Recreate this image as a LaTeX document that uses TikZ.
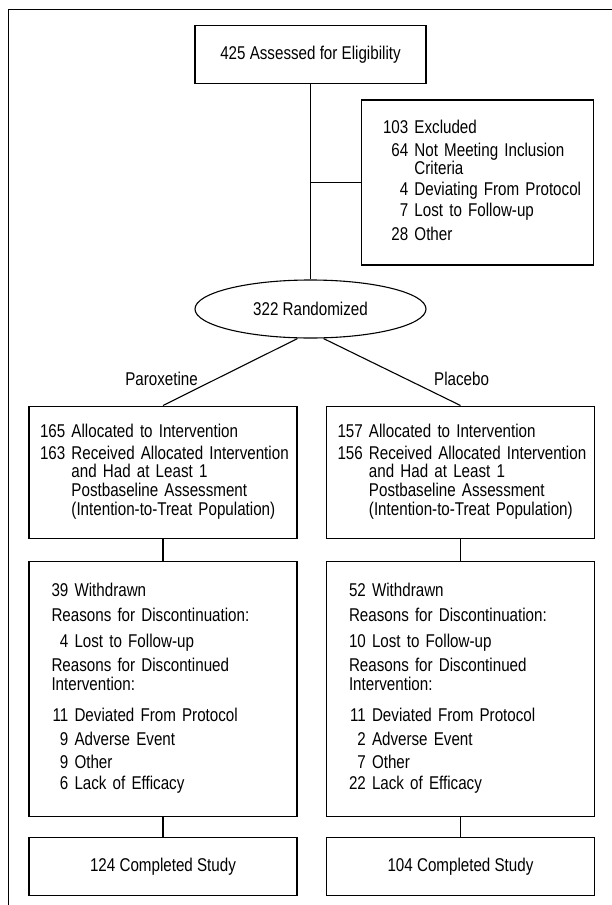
\documentclass[tikz,border=0pt]{standalone}
\usepackage{fontspec}
\setmainfont{Liberation Sans}[FakeStretch=0.82]
\usetikzlibrary{shapes.geometric,positioning}

\newcommand{\rowhead}[1]{\multicolumn{2}{@{}l@{}}{#1}}

\tikzset{
  box/.style={draw, line width=1.1pt, inner sep=0pt},
  listbox/.style={box, align=left, inner ysep=0pt},
  oval/.style={draw, ellipse, line width=1.1pt, inner sep=0pt},
  link/.style={line width=1.1pt},
  frame/.style={line width=1.4pt, line cap=rect}
}

\begin{document}
\begin{tikzpicture}[x=1pt, y=-1pt, font=\fontsize{18.5}{17.5}\selectfont]

  \useasboundingbox (0,0) rectangle (611,905);
  \draw[frame] (611,9.3) -- (8.6,9.3) -- (8.6,905);

  \node[box, minimum width=231pt, minimum height=58.5pt] (assess) at (310.5,54.3) {425 Assessed for Eligibility};

  \node[listbox, minimum width=232pt, minimum height=165pt, text width=189pt, inner xsep=21.5pt] (excl) at (477.5,182.5) {%
    \begin{tabular}{@{}r@{\ }l@{}}
      103 & Excluded\\[5.25pt]
      64 & Not Meeting Inclusion\\[-1pt]
         & Criteria\\[2pt]
      4 & Deviating From Protocol\\[3pt]
      7 & Lost to Follow-up\\[4.5pt]
      28 & Other
    \end{tabular}};

  \node[oval, minimum width=231pt, minimum height=58pt] (rand) at (310.5,309) {322 Randomized};

  % allocation
  \node[listbox, minimum width=268pt, minimum height=132.5pt, text width=246pt, inner xsep=11pt] (alloc1) at (163,472.3) {%
    \begin{tabular}{@{}r@{\ }l@{}}
      165 & Allocated to Intervention\\[2.85pt]
      163 & Received Allocated Intervention\\
          & and Had at Least 1\\
          & Postbaseline Assessment\\
          & (Intention-to-Treat Population)
    \end{tabular}};
  \node[listbox, minimum width=268pt, minimum height=132.5pt, text width=246pt, inner xsep=11pt] (alloc2) at (460.5,472.3) {%
    \begin{tabular}{@{}r@{\ }l@{}}
      157 & Allocated to Intervention\\[2.85pt]
      156 & Received Allocated Intervention\\
          & and Had at Least 1\\
          & Postbaseline Assessment\\
          & (Intention-to-Treat Population)
    \end{tabular}};

  % withdrawals
  \node[listbox, minimum width=268pt, minimum height=255pt, text width=223pt, inner xsep=22.5pt, below=21.5pt of alloc1] (wd1) {%
    \begin{tabular}{@{}r@{\ }l@{}}
      39 & Withdrawn\\[7pt]
      \rowhead{Reasons for Discontinuation:}\\[7pt]
      4 & Lost to Follow-up\\[5.5pt]
      \rowhead{Reasons for Discontinued}\\[0.5pt]
      \rowhead{Intervention:}\\[12pt]
      11 & Deviated From Protocol\\[5.5pt]
      9 & Adverse Event\\[4.5pt]
      9 & Other\\[2pt]
      6 & Lack of Efficacy
    \end{tabular}};
  \node[listbox, minimum width=268pt, minimum height=255pt, text width=223pt, inner xsep=22.5pt, below=21.5pt of alloc2] (wd2) {%
    \begin{tabular}{@{}r@{\ }l@{}}
      52 & Withdrawn\\[7pt]
      \rowhead{Reasons for Discontinuation:}\\[7pt]
      10 & Lost to Follow-up\\[5.5pt]
      \rowhead{Reasons for Discontinued}\\[0.5pt]
      \rowhead{Intervention:}\\[12pt]
      11 & Deviated From Protocol\\[5.5pt]
      2 & Adverse Event\\[4.5pt]
      7 & Other\\[2pt]
      22 & Lack of Efficacy
    \end{tabular}};

  \node[box, minimum width=268pt, minimum height=58pt, below=20pt of wd1] (done1) {124 Completed Study};
  \node[box, minimum width=268pt, minimum height=58pt, below=20pt of wd2] (done2) {104 Completed Study};

  \draw[link] (assess) -- (rand);
  \draw[link] (assess.south |- excl.west) -- (excl.west);
  \draw[link] ([xshift=-13pt]rand.south) -- (alloc1.north);
  \draw[link] ([xshift=13pt]rand.south) -- (alloc2.north);
  \node[anchor=base east, inner sep=0pt] (arm1) at (198,385) {Paroxetine};
  \node[anchor=base west, inner sep=0pt] (arm2) at (434,385) {Placebo};

  \foreach \i in {1,2}{
    \draw[link] (alloc\i) -- (wd\i);
    \draw[link] (wd\i) -- (done\i);
  }

\end{tikzpicture}
\end{document}
